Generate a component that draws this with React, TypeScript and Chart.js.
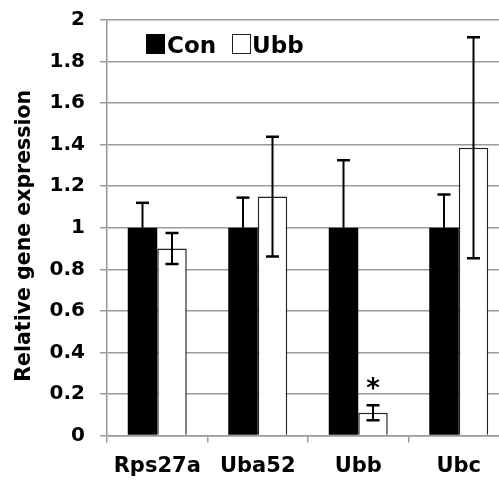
import React, { useEffect, useRef } from 'react';
import { Chart, registerables } from 'chart.js';

Chart.register(...registerables);

// ---- data ----
const categories = ['Rps27a', 'Uba52', 'Ubb', 'Ubc'];
const seriesNames = ['Con', 'Ubb'];
const conValues = [1, 1, 1, 1];
const conErrors = [0.12, 0.145, 0.325, 0.16];
const ubbValues = [0.9, 1.15, 0.11, 1.385];
const ubbErrors = [0.075, 0.288, 0.036, 0.532];
const significance = ['', '', '*', ''];
const yTitle = 'Relative gene expression';
const yMin = 0;
const yMax = 2;
const yStep = 0.2;

const FONT = 'DejaVu Sans';
const GRID = '#9a9a9a';

const errorBarPlugin = {
  id: 'errorBars',
  afterDatasetsDraw(chart: any) {
    const ctx = chart.ctx;
    const y = chart.scales.y;
    const errs = [conErrors, ubbErrors];
    const vals = [conValues, ubbValues];
    ctx.save();
    ctx.strokeStyle = '#000';
    chart.data.datasets.forEach((_: any, di: number) => {
      const meta = chart.getDatasetMeta(di);
      meta.data.forEach((bar: any, i: number) => {
        const v = vals[di][i];
        const e = errs[di][i];
        const x = bar.x;
        const yTop = y.getPixelForValue(v + e);
        const yBot = y.getPixelForValue(di === 0 ? v : v - e);
        const cap = 6.5;
        ctx.lineWidth = 2;
        ctx.beginPath();
        ctx.moveTo(x, yTop);
        ctx.lineTo(x, yBot);
        ctx.stroke();
        ctx.lineWidth = 2.5;
        ctx.beginPath();
        ctx.moveTo(x - cap, yTop);
        ctx.lineTo(x + cap, yTop);
        if (di === 1) {
          ctx.moveTo(x - cap, yBot);
          ctx.lineTo(x + cap, yBot);
        }
        ctx.stroke();
        if (di === 1 && significance[i]) {
          ctx.fillStyle = '#000';
          ctx.font = `bold 26px "${FONT}"`;
          ctx.textAlign = 'center';
          ctx.textBaseline = 'alphabetic';
          ctx.fillText(significance[i], x, yTop - 8);
        }
      });
    });
    ctx.restore();
  },
};

const decorPlugin = {
  id: 'decor',
  afterDraw(chart: any) {
    const ctx = chart.ctx;
    const area = chart.chartArea;
    ctx.save();
    // legend
    const lx = area.left + 39;
    const ly = area.top + 14;
    ctx.font = `bold 23px "${FONT}"`;
    ctx.textAlign = 'left';
    ctx.textBaseline = 'alphabetic';
    ctx.fillStyle = '#000';
    ctx.fillRect(lx, ly, 19, 20);
    ctx.fillText(seriesNames[0], lx + 21, ly + 19);
    const l2 = lx + 86;
    ctx.fillStyle = '#fff';
    ctx.fillRect(l2 + 0.5, ly + 0.5, 18, 19);
    ctx.strokeStyle = '#222';
    ctx.lineWidth = 1;
    ctx.strokeRect(l2 + 0.5, ly + 0.5, 18, 19);
    ctx.fillStyle = '#000';
    ctx.fillText(seriesNames[1], l2 + 20, ly + 19);
    // y title
    ctx.translate(25, (area.top + area.bottom) / 2 + 8);
    ctx.rotate(-Math.PI / 2);
    ctx.font = `bold 20.5px "${FONT}"`;
    ctx.textAlign = 'center';
    ctx.textBaseline = 'middle';
    ctx.fillText(yTitle, 0, 0);
    ctx.restore();
  },
};

export default function App() {
  const ref = useRef<HTMLCanvasElement>(null);
  useEffect(() => {
    const chart = new Chart(ref.current as HTMLCanvasElement, {
      type: 'bar',
      data: {
        labels: categories,
        datasets: [
          {
            label: seriesNames[0],
            data: conValues,
            backgroundColor: '#000',
            borderColor: '#000',
            borderWidth: 0,
            categoryPercentage: 0.587,
            barPercentage: 1,
          },
          {
            label: seriesNames[1],
            data: ubbValues,
            backgroundColor: '#fff',
            borderColor: '#222',
            borderWidth: 1.5,
            categoryPercentage: 0.587,
            barPercentage: 1,
          },
        ],
      },
      options: {
        responsive: false,
        animation: false,
        devicePixelRatio: 1,
        layout: { padding: { top: 20, right: 11, bottom: 0, left: 0 } },
        plugins: { legend: { display: false }, tooltip: { enabled: false } },
        scales: {
          x: {
            offset: true,
            grid: {
              offset: true,
              drawOnChartArea: false,
              drawTicks: true,
              tickLength: 7,
              color: GRID,
              lineWidth: 1.5,
            },
            border: { display: true, color: GRID, width: 1.5 },
            ticks: {
              color: '#000',
              padding: 11,
              font: { family: FONT, size: 21, weight: 'bold' },
              maxRotation: 0,
            },
            afterFit: (s: any) => {
              s.height = 48.5;
            },
          },
          y: {
            min: yMin,
            max: yMax,
            ticks: {
              stepSize: yStep,
              color: '#000',
              padding: 15,
              crossAlign: 'near',
              font: { family: FONT, size: 20, weight: 'bold', lineHeight: 0.4 },
              callback: (v: any) => Number(v).toFixed(1).replace(/\.0$/, ''),
            },
            grid: { color: GRID, lineWidth: 1.5, tickLength: 7 },
            border: { display: true, color: GRID, width: 1.5 },
            afterFit: (s: any) => {
              s.width = 107;
            },
          },
        },
      },
      plugins: [errorBarPlugin, decorPlugin],
    } as any);
    return () => chart.destroy();
  }, []);
  return (
    <div
      style={{
        position: 'fixed',
        left: 0,
        top: 0,
        width: 499,
        height: 484,
        overflow: 'hidden',
        background: '#fff',
      }}
    >
      <canvas ref={ref} width={520} height={484} style={{ display: 'block' }} />
    </div>
  );
}
